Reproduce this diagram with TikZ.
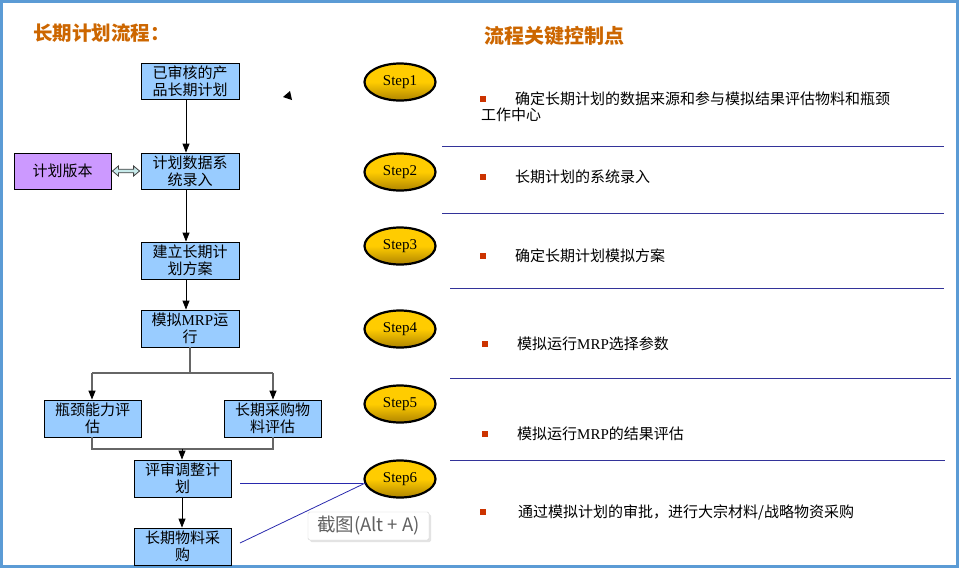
\documentclass[tikz,border=0pt]{standalone}
\usepackage{fontspec}
\setmainfont{Noto Sans CJK SC}
\newfontfamily\tms{Liberation Serif}
\usetikzlibrary{shapes.geometric,arrows.meta,shadows,calc}
\definecolor{boxblue}{RGB}{153,204,255}
\definecolor{boxpurple}{RGB}{204,153,255}
\definecolor{ttl}{RGB}{204,102,0}
\definecolor{sep}{RGB}{51,51,153}
\definecolor{bulred}{RGB}{204,51,0}
\definecolor{frame}{RGB}{91,155,213}
\definecolor{gold}{RGB}{255,204,0}
\definecolor{golddark}{RGB}{175,132,0}
\definecolor{teal1}{RGB}{200,235,235}
\begin{document}
\begin{tikzpicture}[x=1pt,y=-1pt,
  box/.style={draw=black, line width=0.8pt, fill=boxblue, minimum width=98pt, minimum height=36pt, inner sep=0pt, align=center, font=\fontsize{15}{17}\selectfont},
  arr/.style={-{Triangle[width=7pt,length=9pt]}, line width=0.8pt},
  garr/.style={-{Triangle[width=7pt,length=9pt,color=black,fill=black]}},
  gline/.style={line width=1.2pt, draw=black!60},
  stepell/.style={ellipse, draw=black, line width=2.2pt, minimum width=71pt, minimum height=37pt, inner sep=0pt, top color=gold, bottom color=golddark, middle color=gold, font=\tms\fontsize{15}{15}\selectfont},
  sepline/.style={draw=sep, line width=0.9pt},
  bul/.style={rectangle, fill=bulred, minimum size=6pt, inner sep=0pt},
  ltxt/.style={anchor=west, inner sep=0pt, font=\fontsize{15}{17}\selectfont},
  ttlsty/.style={anchor=west, inner sep=0pt, text=ttl, font=\bfseries\fontsize{19.5}{21}\selectfont},
  blink/.style={draw=sep!80!blue, line width=0.8pt}
]
\useasboundingbox (0,0) rectangle (959,568);
\draw[frame, line width=3pt] (1.5,1.5) rectangle (957.5,566.5);

% titles
\node[ttlsty] (tl) at (33,33) {长期计划流程：};
\node[ttlsty, font=\bfseries\fontsize{20}{22}\selectfont] (tr) at (484,36) {流程关键控制点};

% flow boxes
\node[box] (b1) at (190,81) {已审核的产\\品长期计划};
\node[box] (b2) at (190,171) {计划数据系\\统录入};
\node[box, fill=boxpurple, minimum width=97pt] (bv) at (62.5,171) {计划版本};
\node[box, minimum height=37pt] (b3) at (190,260.5) {建立长期计\\划方案};
\node[box, minimum height=37pt] (b4) at (190,328.5) {模拟{\tms MRP}运\\行};
\node[box, minimum width=97pt, minimum height=37pt] (b5) at (92.5,418.5) {瓶颈能力评\\估};
\node[box, minimum width=97pt, minimum height=37pt] (b6) at (272.5,418.5) {长期采购物\\料评估};
\node[box, minimum width=97pt, minimum height=37pt] (b7) at (182.5,478.5) {评审调整计\\划};
\node[box, minimum width=97pt, minimum height=37pt] (b8) at (182.5,546.5) {长期物料采\\购};

% connectors
\draw[arr] ([xshift=-4pt]b1.south) -- ([xshift=-4pt]b2.north);
\draw[arr] ([xshift=-4pt]b2.south) -- ([xshift=-4pt]b3.north);
\draw[arr] ([xshift=-4pt]b3.south) -- ([xshift=-4pt]b4.north);
% hollow double arrow between bv and b2
\draw[draw=black!75, fill=teal1, line width=0.8pt, line join=miter]
  ($(bv.east)+(1,0)$) -- ($(bv.east)+(7,-5)$) -- ($(bv.east)+(7,-1.8)$)
  -- ($(b2.west)+(-7,-1.8)$) -- ($(b2.west)+(-7,-5)$) -- ($(b2.west)+(-1,0)$)
  -- ($(b2.west)+(-7,5)$) -- ($(b2.west)+(-7,1.8)$)
  -- ($(bv.east)+(7,1.8)$) -- ($(bv.east)+(7,5)$) -- cycle;

\coordinate (sp) at (190,373);
\draw[gline] (b4.south) -- (sp);
\draw[gline] (92,373) -- (273,373);
\draw[gline, garr] (92,373) -- (b5.north -| 92,0);
\draw[gline, garr] (273,373) -- (b6.north -| 273,0);
\coordinate (mg) at (182,449);
\draw[gline] (b5.south -| 92,0) -- (92,449) -- (273,449) -- (b6.south -| 273,0);
\draw[arr] (mg) -- (b7.north -| mg);
\draw[arr] (b7.south -| mg) -- (b8.north -| mg);

% stray arrowhead
\fill[black] (283,97) -- (290,91) -- (292,100) -- cycle;

% steps
\node[stepell] (s1) at (400,82) {Step1};
\node[stepell] (s2) at (400,172) {Step2};
\node[stepell] (s3) at (400,246) {Step3};
\node[stepell] (s4) at (400,329) {Step4};
\node[stepell] (s5) at (400,404) {Step5};
\node[stepell] (s6) at (400,479) {Step6};

% step6 links
\coordinate (l1) at (240,483);
\coordinate (l2) at (240,543);
\draw[blink] (l1) -- (s6.west |- l1);
\draw[blink] (l2) -- ($(s6.west)+(2,4)$);

% separators
\draw[sepline] (442,146) -- (944,146);
\draw[sepline] (442,213) -- (944,213);
\draw[sepline] (450,288) -- (944,288);
\draw[sepline] (450,378) -- (951,378);
\draw[sepline] (450,460) -- (945,460);

% bullets and texts
\node[bul] (u1) at (483,99) {};
\node[ltxt] (t1) at (515,99) {确定长期计划的数据来源和参与模拟结果评估物料和瓶颈};
\node[ltxt] (t1b) at (481,115) {工作中心};
\node[bul] (u2) at (483,177) {};
\node[ltxt] (t2) at (515,177) {长期计划的系统录入};
\node[bul] (u3) at (483,256) {};
\node[ltxt] (t3) at (515,256) {确定长期计划模拟方案};
\node[bul] (u4) at (485,344) {};
\node[ltxt] (t4) at (517,344) {模拟运行{\tms MRP}选择参数};
\node[bul] (u5) at (485,434) {};
\node[ltxt] (t5) at (517,434) {模拟运行{\tms MRP}的结果评估};
\node[bul] (u6) at (483,512) {};
\node[ltxt] (t6) at (518,512) {通过模拟计划的审批，进行大宗材料/战略物资采购};

% tooltip
\node[draw=black!18, fill=white, rounded corners=1.5pt, drop shadow={shadow xshift=2pt, shadow yshift=-2pt, fill=black!22}, minimum width=121pt, minimum height=28pt, inner sep=0pt, text=black!62, font=\fontsize{18.5}{18.5}\selectfont] (tip) at (368.5,526) {截图(Alt + A)};
\end{tikzpicture}
\end{document}
